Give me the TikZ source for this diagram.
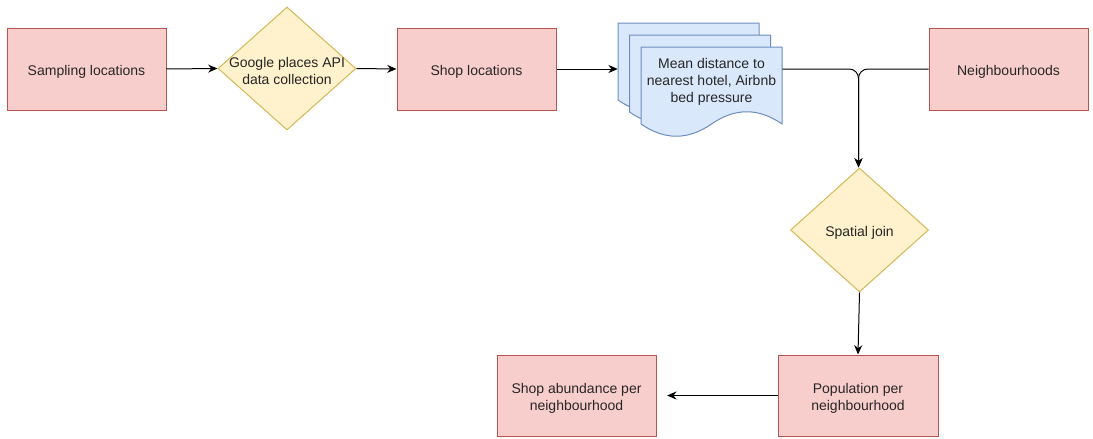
\documentclass[tikz,border=0pt]{standalone}
\usepackage{fontspec}
\setmainfont{Liberation Sans}
\usetikzlibrary{shapes.geometric,arrows.meta}

\definecolor{redfill}{HTML}{F8CECC}
\definecolor{redline}{HTML}{B85450}
\definecolor{yelfill}{HTML}{FFF2CC}
\definecolor{yelline}{HTML}{D6B656}
\definecolor{bluefill}{HTML}{DAE8FC}
\definecolor{blueline}{HTML}{6C8EBF}
\definecolor{txt}{HTML}{262626}

% strut that sets the first line of a multi-line label a little lower
\newcommand\firstlinestrut{\rule{0pt}{11.4pt}}

\tikzset{
  every node/.style={font=\fontsize{10.5}{12.75}\selectfont, text=txt, align=center},
  oneline/.style={text height=10.2pt, text depth=1pt},
  procbox/.style={rectangle, draw=redline, fill=redfill, line width=0.75pt,
    inner sep=0pt, minimum width=119.25pt, minimum height=61.5pt},
  decision/.style={diamond, draw=yelline, fill=yelfill, line width=0.75pt,
    inner sep=0pt, minimum width=103.5pt, minimum height=92.25pt},
  docpage/.style={draw=blueline, fill=bluefill, line width=0.75pt, line join=round},
  flow/.style={draw=black, line width=0.75pt, -{Stealth[length=7pt,width=6pt]}},
}

% one page of the document stack, top-left corner at (#1,#2)
\newcommand\docpage[2]{%
  \draw[docpage, shift={(#1,#2)}] (0,0) -- (141,0) -- (141,77)
    .. controls (117.5,60.68) and (94,60.68) .. (70.5,77)
    .. controls (47,93.32) and (23.5,93.32) .. (0,77) -- cycle;}

\begin{document}
\begin{tikzpicture}[x=0.75pt, y=-0.75pt]
  \useasboundingbox (0,0) rectangle (1093,439);

  % top row
  \node[procbox, oneline] (samp) at (86.5,69) {Sampling locations};
  \node[decision] (gp) at (287,68.5) {};
  \node (gptext) at (287,68.5) {\firstlinestrut Google places API\\data collection};
  \node[procbox, oneline] (shop) at (476.5,69) {Shop locations};

  % document stack
  \docpage{618}{23}
  \docpage{629.5}{35}
  \docpage{641}{47}
  \node[inner sep=0pt, minimum width=123pt, minimum height=15pt] (stack) at (700,69) {};
  \node (doctext) at (711.5,79) {\firstlinestrut Mean distance to\\nearest hotel, Airbnb\\bed pressure};

  \node[procbox, oneline] (nb) at (1008.5,69) {Neighbourhoods};

  % join and results
  \node[decision, minimum height=93pt] (sj) at (859.5,230) {};
  \node[oneline] (sjtext) at (859.5,230) {Spatial join};
  \node[procbox, minimum width=120pt, minimum height=60.75pt] (pop) at (858,395.5)
    {\firstlinestrut Population per\\neighbourhood};
  \node[procbox, minimum height=60.75pt] (abund) at (576.5,395.5)
    {\firstlinestrut Shop abundance per\\neighbourhood};

  \coordinate (merge) at (858.5,69);

  % connectors
  \draw[flow] (samp.east) -- (gp.west);
  \draw[flow] (gp.east) -- (shop.west);
  \draw[flow] (shop.east) -- (stack.west);
  \draw[flow, rounded corners=7pt] (stack.east) -- (merge) -- (merge |- sj.north);
  \draw[flow, rounded corners=7pt] (nb.west) -- (merge) -- (merge |- sj.north);
  \draw[flow] (sj.south) -- (pop.north);
  \draw[flow, shorten >=8pt] (pop.west) -- (abund.east);
\end{tikzpicture}
\end{document}
